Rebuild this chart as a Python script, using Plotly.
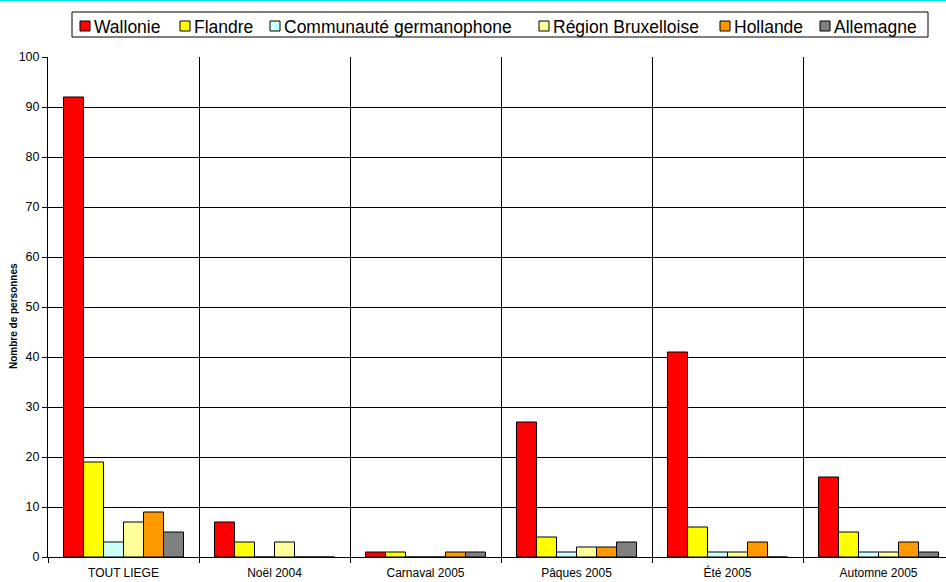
import plotly.graph_objects as go

categories = ["TOUT LIEGE", "Noël 2004", "Carnaval 2005", "Pâques 2005", "Été 2005", "Automne 2005"]
series_names = ["Wallonie", "Flandre", "Communauté germanophone", "Région Bruxelloise", "Hollande", "Allemagne"]
wallonie = [92, 7, 1, 27, 41, 16]
flandre = [19, 3, 1, 4, 6, 5]
germanophone = [3, 0, 0, 1, 1, 1]
bruxelles = [7, 3, 0, 2, 1, 1]
hollande = [9, 0, 1, 2, 3, 3]
allemagne = [5, 0, 1, 3, 0, 1]
y_ticks = [0, 10, 20, 30, 40, 50, 60, 70, 80, 90, 100]

series_values = [wallonie, flandre, germanophone, bruxelles, hollande, allemagne]
colors = ["#FF0000", "#FFFF00", "#CCFFFF", "#FFFF99", "#FF9900", "#808080"]

FONT = "Liberation Sans, Arial, sans-serif"
W, H = 946, 582
ml, mt, mb = 48, 57, 25
plot_w = W - ml
plot_h = H - mt - mb
cat_w = 151.0
x_right = -0.5 + plot_w / cat_w


def px_x(p):
    return (p - ml) / plot_w


def px_y(p):
    return (mt + plot_h - p) / plot_h


x_pos = list(range(len(categories)))
fig = go.Figure()
for name, vals, col in zip(series_names, series_values, colors):
    fig.add_trace(go.Bar(
        x=x_pos, y=vals, name=name, showlegend=False,
        marker=dict(color=col, line=dict(color="#000000", width=1)),
    ))

fig.update_layout(
    width=W, height=H,
    margin=dict(l=ml, r=0, t=mt, b=mb, autoexpand=False),
    paper_bgcolor="white", plot_bgcolor="white",
    font=dict(family=FONT, color="#000000", size=12.5),
    barmode="group", bargap=0.205, bargroupgap=0,
    showlegend=False,
    xaxis=dict(
        range=[-0.5, x_right], tickmode="array", tickvals=x_pos, ticktext=categories,
        showgrid=False, zeroline=False, showline=True, linecolor="#000000", linewidth=1,
        ticks="", tickfont=dict(size=12), ticklabelstandoff=5,
        minor=dict(tickmode="array", tickvals=[i - 0.5 for i in range(len(categories) + 1)],
                   showgrid=True, gridcolor="#000000", gridwidth=1,
                   ticks="outside", ticklen=5, tickcolor="#000000"),
    ),
    yaxis=dict(
        range=[0, 100], tickmode="array", tickvals=y_ticks,
        showgrid=True, gridcolor="#000000", gridwidth=1,
        zeroline=False, showline=True, linecolor="#000000", linewidth=1,
        ticks="outside", ticklen=5, tickcolor="#000000", tickfont=dict(size=12.5),
    ),
)

# y-axis title
fig.add_annotation(xref="paper", yref="paper", x=px_x(13), y=px_y(316),
                   text="<b>Nombre de personnes</b>", textangle=-90, showarrow=False,
                   font=dict(size=10, family=FONT, color="#000000"),
                   xanchor="center", yanchor="middle")

# top cyan rule
fig.add_shape(type="line", xref="paper", yref="paper",
              x0=px_x(0), x1=1, y0=px_y(0.5), y1=px_y(0.5),
              line=dict(color="#00E5E5", width=2))

# legend (drawn as layout items)
fig.add_shape(type="rect", xref="paper", yref="paper",
              x0=px_x(72), x1=px_x(928), y0=px_y(12), y1=px_y(37),
              line=dict(color="#000000", width=1), fillcolor="white", layer="above")
sym_left = [80, 180, 270, 539, 720, 820]
for name, col, sx in zip(series_names, colors, sym_left):
    fig.add_shape(type="rect", xref="paper", yref="paper",
                  x0=px_x(sx), x1=px_x(sx + 10), y0=px_y(21), y1=px_y(31),
                  line=dict(color="#000000", width=1), fillcolor=col, layer="above")
    fig.add_annotation(xref="paper", yref="paper", x=px_x(sx + 12), y=px_y(26.5),
                       text=name, showarrow=False, xanchor="left", yanchor="middle",
                       font=dict(size=17.5, family=FONT, color="#000000"))

fig.write_html("out.html", config={"displayModeBar": False},
               post_script="document.body.style.margin='0';document.body.style.padding='0';")
